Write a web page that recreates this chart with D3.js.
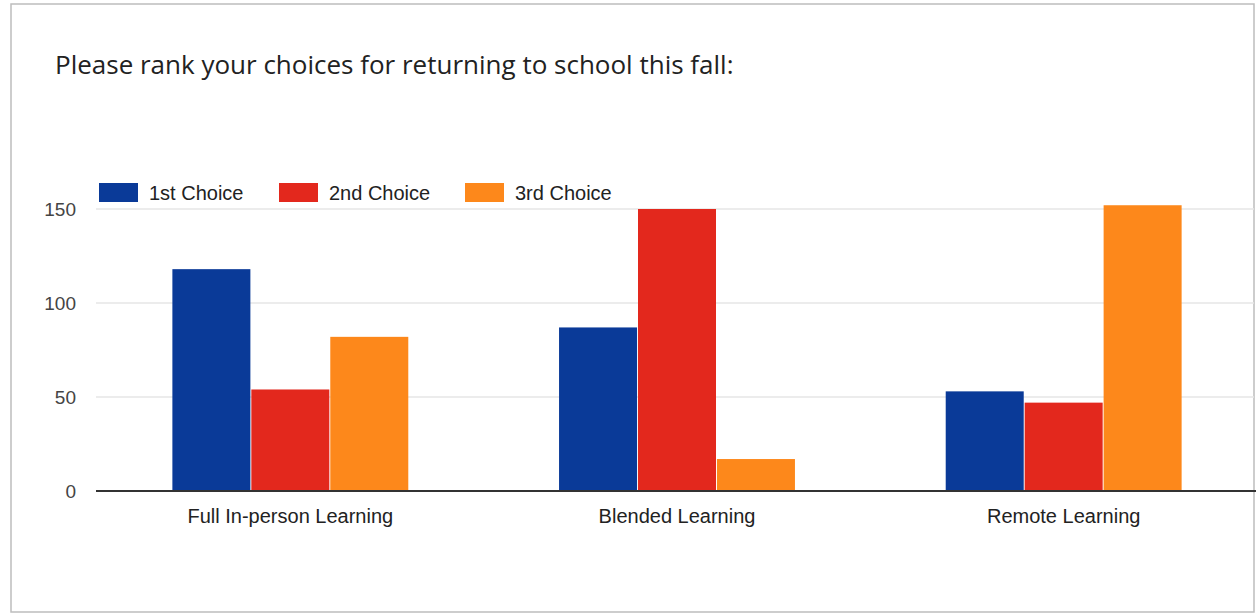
<!DOCTYPE html>
<html><head><meta charset="utf-8">
<script src="https://cdn.jsdelivr.net/npm/d3@7"></script>
<style>body{margin:0;background:#fff;}svg{display:block;}</style>
</head><body>
<svg id="c" width="1256" height="615"></svg>
<script>
const title = "Please rank your choices for returning to school this fall:";
const categories = ["Full In-person Learning", "Blended Learning", "Remote Learning"];
const seriesNames = ["1st Choice", "2nd Choice", "3rd Choice"];
const firstChoice = [118, 87, 53];
const secondChoice = [54, 150, 47];
const thirdChoice = [82, 17, 152];
const yTicks = [0, 50, 100, 150];
const colors = ["#0a3a98", "#e3281d", "#fd881b"];

const seriesValues = [firstChoice, secondChoice, thirdChoice];
const rows = categories.map((c, i) => ({cat: c, vals: seriesValues.map((s, j) => ({k: seriesNames[j], v: s[i], j}))}));

const svg = d3.select("#c");
// frame
svg.append("rect").attr("x", 11).attr("y", 4).attr("width", 1243).attr("height", 608)
  .attr("fill", "#fff").attr("stroke", "#bdbdbd").attr("stroke-width", 1.5);

svg.append("text").attr("x", 55).attr("y", 74).attr("font-family", "'Open Sans', Roboto, Arial, sans-serif")
  .attr("font-size", 26).attr("fill", "#222").text(title);

const x0 = d3.scaleBand().domain(categories).range([97, 1257]).paddingInner(0.385).paddingOuter(0.1925);
const x1 = d3.scaleBand().domain(seriesNames).range([0, x0.bandwidth()]).padding(0.012);
const y = d3.scaleLinear().domain([0, 150]).range([491, 209]);

// gridlines
svg.append("g").selectAll("line").data(yTicks.filter(d => d > 0)).join("line")
  .attr("x1", 96).attr("x2", 1254).attr("y1", d => y(d)).attr("y2", d => y(d))
  .attr("stroke", "#e6e6e6").attr("stroke-width", 1.5);

// y axis labels
const yAxis = d3.axisLeft(y).tickValues(yTicks).tickSize(0).tickPadding(0).tickFormat(d3.format("d"));
const ya = svg.append("g").attr("transform", "translate(76,0)").call(yAxis);
ya.select(".domain").remove();
ya.selectAll("text").attr("font-family", "Liberation Sans, Arial, sans-serif").attr("font-size", 19).attr("fill", "#444");

// bars
const g = svg.append("g").selectAll("g").data(rows).join("g")
  .attr("transform", d => `translate(${x0(d.cat)},0)`);
g.selectAll("rect").data(d => d.vals).join("rect")
  .attr("x", d => x1(d.k)).attr("width", x1.bandwidth())
  .attr("y", d => y(d.v)).attr("height", d => y(0) - y(d.v))
  .attr("fill", d => colors[d.j]);

// baseline
svg.append("line").attr("x1", 96).attr("x2", 1256).attr("y1", y(0)).attr("y2", y(0))
  .attr("stroke", "#333").attr("stroke-width", 2);

// x axis labels
const xAxis = d3.axisBottom(x0).tickSize(0).tickPadding(0);
const xa = svg.append("g").attr("transform", `translate(0,${y(0) + 18})`).call(xAxis);
xa.select(".domain").remove();
xa.selectAll("text").attr("font-family", "Liberation Sans, Arial, sans-serif").attr("font-size", 20).attr("fill", "#222");

// legend
const legX = [99, 279, 465];
const leg = svg.append("g").selectAll("g").data(seriesNames).join("g")
  .attr("transform", (d, i) => `translate(${legX[i]},183)`);
leg.append("rect").attr("width", 39).attr("height", 19).attr("fill", (d, i) => colors[i]);
leg.append("text").attr("x", 50).attr("y", 17).attr("font-family", "Liberation Sans, Arial, sans-serif")
  .attr("font-size", 20).attr("fill", "#222").text(d => d);
</script>
</body></html>
